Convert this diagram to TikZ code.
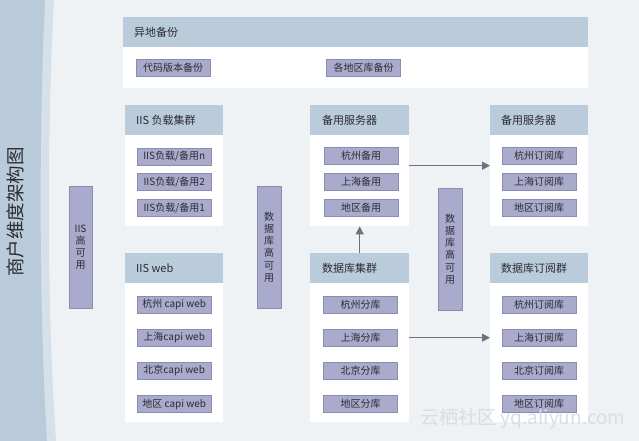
\documentclass[tikz,border=0pt]{standalone}
\usepackage{fontspec}
\setmainfont{Noto Sans CJK SC}
\usetikzlibrary{positioning,arrows.meta}
\definecolor{bgc}{HTML}{EEF2F5}
\definecolor{band}{HTML}{B9CBDA}
\definecolor{bandlt}{HTML}{D5E0E9}
\definecolor{headc}{HTML}{BACCDC}
\definecolor{itemc}{HTML}{AAABCC}
\definecolor{itemd}{HTML}{8B8DB0}
\definecolor{arrc}{HTML}{6F717A}
\definecolor{txt}{HTML}{2B2B33}
\definecolor{wmark}{HTML}{DADEE3}
\tikzset{grp/.style={fill=white,anchor=north west,inner sep=0pt,
           path picture={\fill[headc] (path picture bounding box.north west) rectangle ([yshift=-30pt]path picture bounding box.north east);}},
         gtitle/.style={anchor=west,inner sep=0pt,text=txt,font=\fontsize{11}{13}\selectfont},
         item/.style={fill=itemc,draw=itemd,line width=0.7pt,text=txt,font=\fontsize{10}{12}\selectfont,
           minimum width=74pt,minimum height=17pt,inner sep=0pt},
         hibar/.style={item,minimum width=24pt,minimum height=122pt,align=center,font=\fontsize{10}{12.2}\selectfont},
         arr/.style={-{Triangle[length=8pt,width=8pt]},arrc,line width=1.3pt}}
\begin{document}
\begin{tikzpicture}[x=1pt,y=-1pt,node distance=8pt]
 \useasboundingbox (0,0) rectangle (639,441);
 \fill[bgc] (0,0) rectangle (639,441);
 % left band
 \fill[bandlt] (0,0) -- (54,0) .. controls (46,150) and (48,330) .. (56,441) -- (0,441) -- cycle;
 \fill[band] (0,0) -- (45,0) .. controls (38,150) and (40,330) .. (47,441) -- (0,441) -- cycle;
 \node[rotate=90,text=txt,font=\fontsize{18.5}{20}\selectfont] (ttl) at (15,212) {商户维度架构图};
 % groups
 \node[grp,minimum width=465pt,minimum height=71pt] (bak) at (123,17) {};
 \node[grp,minimum width=98pt,minimum height=121pt] (iisl) at (125,105) {};
 \node[grp,minimum width=99pt,minimum height=121pt] (srv) at (310,105) {};
 \node[grp,minimum width=98pt,minimum height=121pt] (srvb) at (490,105) {};
 \node[grp,minimum width=98pt,minimum height=169pt] (iisw) at (125,253) {};
 \node[grp,minimum width=99pt,minimum height=169pt] (dbc) at (310,253) {};
 \node[grp,minimum width=98pt,minimum height=169pt] (dbs) at (490,253) {};
 \node[gtitle] (bakt) at ([xshift=11pt,yshift=-15pt]bak.north west) {异地备份};
 \node[gtitle] (iislt) at ([xshift=11pt,yshift=-15pt]iisl.north west) {IIS 负载集群};
 \node[gtitle] (srvt) at ([xshift=12pt,yshift=-15pt]srv.north west) {备用服务器};
 \node[gtitle] (srvbt) at ([xshift=11pt,yshift=-15pt]srvb.north west) {备用服务器};
 \node[gtitle] (iiswt) at ([xshift=11pt,yshift=-15pt]iisw.north west) {IIS web};
 \node[gtitle] (dbct) at ([xshift=12pt,yshift=-15pt]dbc.north west) {数据库集群};
 \node[gtitle] (dbst) at ([xshift=11pt,yshift=-15pt]dbs.north west) {数据库订阅群};
 % backup items
 \node[item] (bak1) at ([xshift=50pt,yshift=-50.5pt]bak.north west) {代码版本备份};
 \node[item] (bak2) at ([xshift=240.5pt,yshift=-50.5pt]bak.north west) {各地区库备份};
 % IIS load
 \node[item] (iisn) at ([yshift=-51.5pt]iisl.north) {IIS负载/备用n};
 \node[item,below=of iisn] (iis2) {IIS负载/备用2};
 \node[item,below=of iis2] (iis1) {IIS负载/备用1};
 % standby servers
 \node[item] (hzb) at ([xshift=1.5pt,yshift=-51pt]srv.north) {杭州备用};
 \node[item,below=of hzb] (shb) {上海备用};
 \node[item,below=of shb] (dqb) {地区备用};
 \node[item] (hzd1) at ([yshift=-51pt]srvb.north) {杭州订阅库};
 \node[item,below=of hzd1] (shd1) {上海订阅库};
 \node[item,below=of shd1] (dqd1) {地区订阅库};
 % IIS web
 \node[item] (hzw) at ([yshift=-51.5pt]iisw.north) {杭州 capi web};
 \node[item,below=15.5pt of hzw] (shw) {上海capi web};
 \node[item,below=15.5pt of shw] (bjw) {北京capi web};
 \node[item,below=15.5pt of bjw] (dqw) {地区 capi web};
 % db cluster
 \node[item] (hzf) at ([xshift=1pt,yshift=-51.5pt]dbc.north) {杭州分库};
 \node[item,below=15.5pt of hzf] (shf) {上海分库};
 \node[item,below=15.5pt of shf] (bjf) {北京分库};
 \node[item,below=15.5pt of bjf] (dqf) {地区分库};
 \node[item] (hzd) at ([yshift=-51.5pt]dbs.north) {杭州订阅库};
 \node[item,below=15.5pt of hzd] (shd) {上海订阅库};
 \node[item,below=15.5pt of shd] (bjd) {北京订阅库};
 \node[item,below=15.5pt of bjd] (dqd) {地区订阅库};
 % high availability bars
 \node[hibar,minimum width=23pt] (iisha) at (80.5,247) {IIS\\高\\可\\用};
 \node[hibar] (dbha) at (269,247) {数\\据\\库\\高\\可\\用};
 \node[hibar] (dbhb) at (450,249) {数\\据\\库\\高\\可\\用};
 % arrows
 \draw[arr] (srv.east) -- (srvb.west);
 \draw[arr] (dbc.north) -- (srv.south);
 \draw[arr] (dbc.east) -- (dbs.west);
 \node[text=wmark,font=\fontsize{19}{20}\selectfont] (wm) at (523,419) {云栖社区 yq.aliyun.com};
\end{tikzpicture}
\end{document}
